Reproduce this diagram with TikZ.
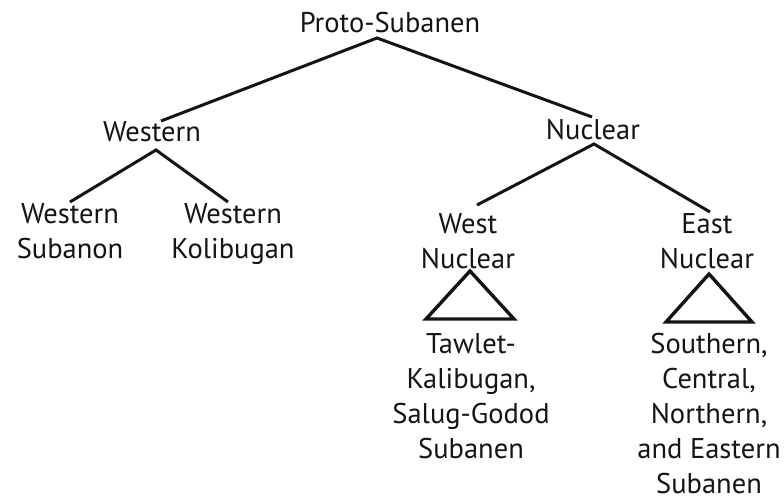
\documentclass[tikz,border=0pt]{standalone}
\usepackage{fontspec}
\setmainfont{PT Sans}
\begin{document}
\begin{tikzpicture}[x=1pt,y=-1pt,
  label/.style={inner sep=0pt, anchor=base, align=center, text=black!92,
    font=\fontsize{28.5}{35}\selectfont},
  branch/.style={line width=3pt, draw=black!92},
  subtree/.style={line width=3.4pt, draw=black!92, line join=miter}]
\useasboundingbox (0,0) rectangle (784,497);

% tree labels (multi-line labels are placed by the baseline of their last line)
\node[label] (proto)   at (390,33)  {Proto-Subanen};
\node[label] (western) at (152,142) {Western};
\node[label] (nuclear) at (593,140) {Nuclear};
\node[label] (wsub)    at (70,258)  {Western\\Subanon};
\node[label] (wkol)    at (233,258) {Western\\Kolibugan};
\node[label] (wnuc)    at (468,268) {West\\Nuclear};
\node[label] (enuc)    at (707,268) {East\\Nuclear};
\node[label] (tawlet)  at (471,458) {Tawlet-\\Kalibugan,\\Salug-Godod\\Subanen};
\node[label] (south)   at (709,493) {Southern,\\Central,\\Northern,\\and Eastern\\Subanen};

% branches
\draw[branch] ([shift={(9,-21)}]western.base) -- ([shift={(-13,5)}]proto.base)
              -- ([shift={(-1,-23)}]nuclear.base);
\draw[branch] ([shift={(0,-56)}]wsub.base) -- ([shift={(4,8)}]western.base)
              -- ([shift={(-5,-56)}]wkol.base);
\draw[branch] ([shift={(9,-63)}]wnuc.base) -- ([shift={(1,4)}]nuclear.base)
              -- ([shift={(3,-56)}]enuc.base);

% collapsed subtrees
\draw[subtree] ([shift={(2,3)}]wnuc.base) -- ++(44,48) -- ++(-88,0) -- cycle;
\draw[subtree] ([shift={(2,6)}]enuc.base) -- ++(43,48) -- ++(-86,0) -- cycle;
\end{tikzpicture}
\end{document}
